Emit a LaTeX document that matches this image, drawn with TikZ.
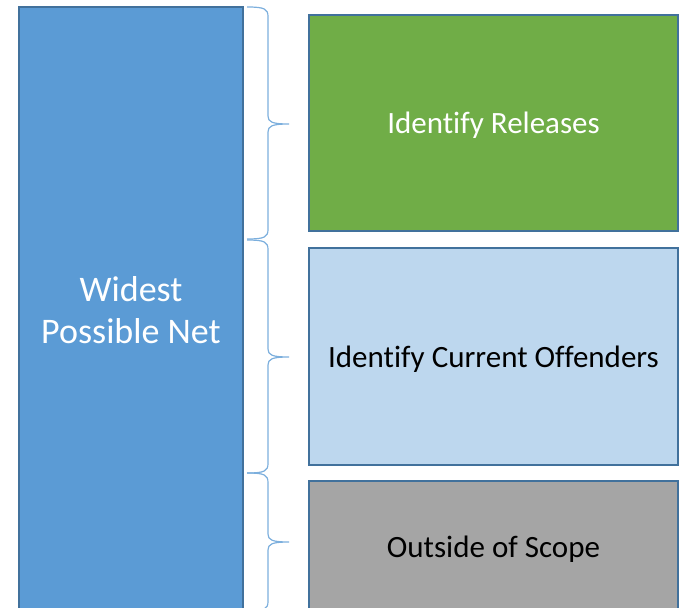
\documentclass[tikz,border=0pt]{standalone}
\usepackage{fontspec}
\setmainfont{Carlito}[Ligatures=NoCommon]
\definecolor{netblue}{HTML}{5B9BD5}
\definecolor{relgreen}{HTML}{70AD47}
\definecolor{curblue}{HTML}{BDD7EE}
\definecolor{outgray}{HTML}{A5A5A5}
\definecolor{edgeblue}{HTML}{41719C}
\begin{document}
\begin{tikzpicture}[x=1bp, y=-1bp,
    box/.style={draw=edgeblue, line width=1.3bp, inner sep=0pt, align=center,
      font=\fontsize{31bp}{38bp}\selectfont, text depth=0pt},
    brace/.style={draw=netblue!80, line width=1.2bp}]
    \useasboundingbox (0,0) rectangle (679,608);
    \clip (0,0) rectangle (679,608);

    % Left column
    \node[box, fill=netblue, text=white, minimum width=224bp, minimum height=606bp,
      text depth=, font=\fontsize{36bp}{42bp}\selectfont] (net) at (131,310) {Widest\\Possible Net};

    % Right column
    \node[box, fill=relgreen, text=white, minimum width=369bp, minimum height=216bp] (releases) at (493.5,123) {Identify Releases};
    \node[box, fill=curblue, minimum width=369bp, minimum height=217bp] (current) at (493.5,356.5) {Identify Current Offenders};
    \node[box, fill=outgray, minimum width=369bp, minimum height=132bp] (outside) at (493.5,547) {Outside of Scope};

    % Braces
    \foreach \a/\m/\b in {7/124/239, 240/357/473, 473/542/611} {
      \draw[brace] (247,\a) .. controls (265,\a) and (268,\a+2) .. (268,\a+10)
        -- (268,\m-8) .. controls (268,\m-2) and (272,\m) .. (289,\m)
        .. controls (272,\m) and (268,\m+2) .. (268,\m+8)
        -- (268,\b-10) .. controls (268,\b-2) and (265,\b) .. (247,\b);
    }
\end{tikzpicture}
\end{document}
